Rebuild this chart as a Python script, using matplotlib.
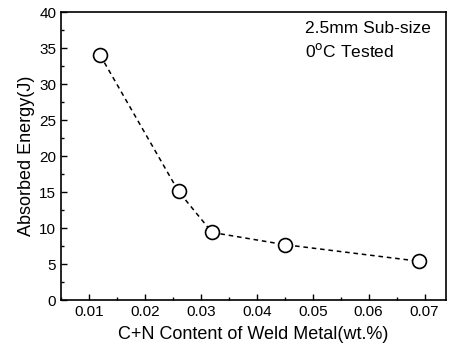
import matplotlib
matplotlib.use('Agg')
import matplotlib.pyplot as plt
from matplotlib.ticker import MultipleLocator

plt.rcParams['font.family'] = ['Liberation Sans', 'DejaVu Sans']

cn_content = [0.012, 0.026, 0.032, 0.045, 0.069]
energy = [34.0, 15.1, 9.4, 7.7, 5.4]

fig = plt.figure(figsize=(4.49, 3.56), dpi=100)
ax = fig.add_axes([0.136, 0.157, 0.857, 0.809])

ax.plot(cn_content, energy, linestyle=(0, (3, 2.5)), color='black', linewidth=1.1,
        marker='o', markersize=10, markerfacecolor='white', markeredgecolor='black',
        markeredgewidth=1.2)

ax.set_xlim(0.005, 0.0738)
ax.set_ylim(0, 40)
ax.xaxis.set_major_locator(MultipleLocator(0.01))
ax.xaxis.set_minor_locator(MultipleLocator(0.005))
ax.yaxis.set_major_locator(MultipleLocator(5))
ax.yaxis.set_minor_locator(MultipleLocator(2.5))
ax.tick_params(which='both', direction='in', top=False, right=False, labelsize=11)
ax.tick_params(which='major', length=4, width=1)
ax.tick_params(which='minor', length=2, width=1)
for s in ax.spines.values():
    s.set_linewidth(1.2)

ax.set_xlabel('C+N Content of Weld Metal(wt.%)', fontsize=13, labelpad=5)
ax.set_ylabel('Absorbed Energy(J)', fontsize=13, labelpad=3)

ax.text(0.635, 0.97, '2.5mm Sub-size\n0$^\\mathrm{o}$C Tested', transform=ax.transAxes,
        fontsize=12.5, va='top', ha='left', linespacing=1.4)

fig.savefig('out.png', dpi=100)
